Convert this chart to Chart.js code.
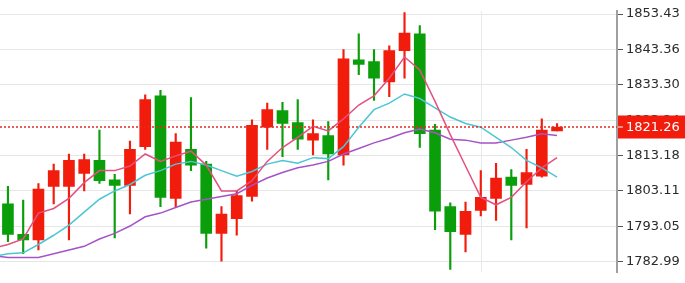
<!DOCTYPE html>
<html>
<head>
<meta charset="utf-8">
<script src="https://cdn.jsdelivr.net/npm/chart.js@4"></script>
<style>
  body { margin: 0; background: #fff; }
  canvas { display: block; }
</style>
</head>
<body>
<canvas id="price-chart" width="685" height="283"></canvas>
<script>
// candles, oldest first
var opens  = [1799.42, 1790.74, 1789.17, 1804.41, 1804.41, 1808.09, 1811.77, 1806.25, 1804.67, 1815.71,
              1830.16, 1800.99, 1814.92, 1810.72, 1791.01, 1795.21, 1801.52, 1821.23, 1825.96, 1822.54,
              1817.55, 1818.86, 1813.34, 1840.41, 1839.89, 1834.11, 1843.04, 1847.77, 1820.44, 1798.63,
              1790.74, 1797.58, 1800.99, 1807.04, 1804.93, 1807.30, 1820.18];
var highs  = [1804.41, 1800.47, 1805.20, 1810.72, 1813.61, 1813.61, 1820.44, 1807.83, 1817.29, 1830.43,
              1831.74, 1819.39, 1829.64, 1811.50, 1798.63, 1803.09, 1823.33, 1828.06, 1828.33, 1829.11,
              1823.33, 1822.81, 1843.30, 1847.77, 1843.30, 1844.36, 1853.82, 1850.14, 1822.02, 1799.68,
              1799.94, 1808.88, 1810.98, 1809.14, 1814.92, 1823.59, 1822.28];
var lows   = [1788.64, 1785.22, 1786.28, 1799.42, 1789.17, 1803.09, 1805.20, 1789.69, 1796.52, 1814.92,
              1798.63, 1798.63, 1808.88, 1786.80, 1783.12, 1790.48, 1800.20, 1814.92, 1812.82, 1814.92,
              1813.34, 1806.25, 1810.45, 1836.21, 1828.85, 1829.90, 1835.16, 1815.45, 1792.06, 1780.76,
              1785.75, 1796.00, 1794.69, 1789.17, 1792.58, 1807.04, 1820.18];
var closes = [1790.74, 1789.17, 1803.62, 1808.88, 1811.77, 1812.03, 1805.99, 1804.67, 1814.92, 1829.11,
              1801.26, 1817.02, 1810.45, 1791.01, 1796.52, 1801.78, 1821.75, 1826.22, 1822.28, 1817.81,
              1819.39, 1813.61, 1840.68, 1839.10, 1835.16, 1843.04, 1848.04, 1819.39, 1797.31, 1791.53,
              1797.31, 1801.26, 1806.77, 1804.67, 1808.35, 1820.44, 1821.26];

// moving averages, first value belongs to the candle before the first one shown
var maFast = [1786.80, 1787.85, 1789.43, 1796.79, 1798.10, 1800.99, 1805.46, 1808.88, 1808.88, 1810.19,
              1813.61, 1811.50, 1813.08, 1814.40, 1810.45, 1803.09, 1803.09, 1805.99, 1811.50, 1815.45,
              1818.34, 1821.49, 1820.18, 1823.59, 1827.54, 1830.16, 1835.16, 1841.20, 1837.52, 1828.59,
              1819.13, 1810.19, 1801.26, 1799.15, 1801.26, 1805.72, 1809.67, 1812.56];
var maMid  = [1784.44, 1785.22, 1785.49, 1787.85, 1790.48, 1793.37, 1797.05, 1800.73, 1803.09, 1804.93,
              1807.56, 1808.88, 1810.72, 1811.50, 1810.45, 1808.88, 1807.30, 1808.61, 1810.72, 1811.77,
              1810.98, 1812.56, 1812.29, 1815.71, 1821.23, 1826.22, 1828.06, 1830.69, 1829.38, 1826.75,
              1824.12, 1822.28, 1821.23, 1818.34, 1815.45, 1811.77, 1809.67, 1807.04];
var maSlow = [1784.70, 1784.17, 1784.17, 1784.17, 1785.22, 1786.28, 1787.33, 1789.43, 1791.01, 1793.11,
              1795.74, 1796.79, 1798.36, 1799.94, 1800.73, 1801.52, 1802.31, 1804.67, 1806.77, 1808.35,
              1809.67, 1810.45, 1811.50, 1813.61, 1815.18, 1816.76, 1818.08, 1819.65, 1820.70, 1819.65,
              1817.81, 1817.55, 1816.76, 1816.76, 1817.55, 1818.34, 1819.39, 1818.86];

var yTicks = [1782.99, 1793.05, 1803.11, 1813.18, 1823.24, 1833.30, 1843.36, 1853.43];
var lastPrice = 1821.26;
var timeGridAt = 31;

var upColor = '#f21c0c';
var downColor = '#0b9e0b';

var bodies = [], wicks = [], colors = [];
for (var i = 0; i < opens.length; i++) {
  bodies.push({x: i, y: [opens[i], closes[i]]});
  wicks.push({x: i, y: [lows[i], highs[i]]});
  colors.push(closes[i] >= opens[i] ? upColor : downColor);
}
function maPoints(arr) {
  return arr.map(function(v, k) { return {x: k - 1, y: v}; });
}

const priceLine = {
  id: 'priceLine',
  beforeDatasetsDraw: (chart) => {
    // the single time grid line
    const {ctx, chartArea} = chart;
    const x = Math.round(chart.scales.x.getPixelForValue(timeGridAt)) + 0.5;
    ctx.save();
    ctx.strokeStyle = '#e2e9ef';
    ctx.lineWidth = 1;
    ctx.beginPath();
    ctx.moveTo(x, chartArea.top);
    ctx.lineTo(x, chartArea.bottom);
    ctx.stroke();
    ctx.restore();
  },
  afterDatasetsDraw: (chart) => {
    const {ctx, chartArea} = chart;
    const y = chart.scales.y.getPixelForValue(lastPrice);
    ctx.save();
    ctx.strokeStyle = '#e8281c';
    ctx.lineWidth = 1.5;
    ctx.setLineDash([2, 2]);
    ctx.beginPath();
    ctx.moveTo(chartArea.left, y);
    ctx.lineTo(chartArea.right, y);
    ctx.stroke();
    ctx.restore();
  },
  afterDraw: (chart) => {
    const {ctx, chartArea} = chart;
    const y = chart.scales.y.getPixelForValue(lastPrice);
    ctx.save();
    ctx.fillStyle = '#f21c0c';
    ctx.fillRect(chartArea.right + 1, Math.round(y) - 11.5, chart.width - chartArea.right, 23);
    ctx.fillStyle = '#fff';
    ctx.fillRect(chartArea.right + 1, Math.round(y) - 0.5, 5, 1);
    ctx.font = '13px "DejaVu Sans"';
    ctx.textBaseline = 'middle';
    ctx.fillText(lastPrice.toFixed(2), chartArea.right + 9, y + 0.5);
    ctx.restore();
  }
};

var config = {
  type: 'bar',
  data: {
    datasets: [{
      type: 'line', data: maPoints(maFast), borderColor: '#e4507f', borderWidth: 1.5,
      pointRadius: 0, tension: 0, order: 0
    }, {
      type: 'line', data: maPoints(maMid), borderColor: '#4cc6d4', borderWidth: 1.5,
      pointRadius: 0, tension: 0, order: 0
    }, {
      type: 'line', data: maPoints(maSlow), borderColor: '#a553c6', borderWidth: 1.5,
      pointRadius: 0, tension: 0, order: 0
    }, {
      data: bodies, backgroundColor: colors, barThickness: 11, grouped: false, order: 1
    }, {
      data: wicks, backgroundColor: colors, barThickness: 1.5, grouped: false, order: 2
    }]
  },
  options: {
    responsive: false,
    animation: false,
    layout: { padding: 0 },
    plugins: { legend: { display: false }, tooltip: { enabled: false } },
    scales: {
      x: {
        type: 'linear',
        offset: false,
        min: -0.52,
        max: 39.93,
        afterFit: (scale) => { scale.height = 0; },
        ticks: { display: false },
        border: { display: false },
        grid: { display: false }
      },
      y: {
        position: 'right',
        min: 1779.97,
        max: 1854.35,
        afterBuildTicks: (scale) => { scale.ticks = yTicks.map(v => ({value: v})); },
        afterFit: (scale) => { scale.width = 68; },
        ticks: {
          color: '#2b2b2b',
          padding: 3,
          font: { family: 'DejaVu Sans', size: 13 },
          callback: (v) => v.toFixed(2)
        },
        border: { color: '#a0a0a0', width: 2 },
        grid: { color: '#e6e6e6', tickLength: 6, tickColor: '#555' }
      }
    }
  },
  plugins: [priceLine]
};

window.onload = function() {
  var ctx = document.getElementById('price-chart').getContext('2d');
  window.priceChart = new Chart(ctx, config);
};
</script>
</body>
</html>
